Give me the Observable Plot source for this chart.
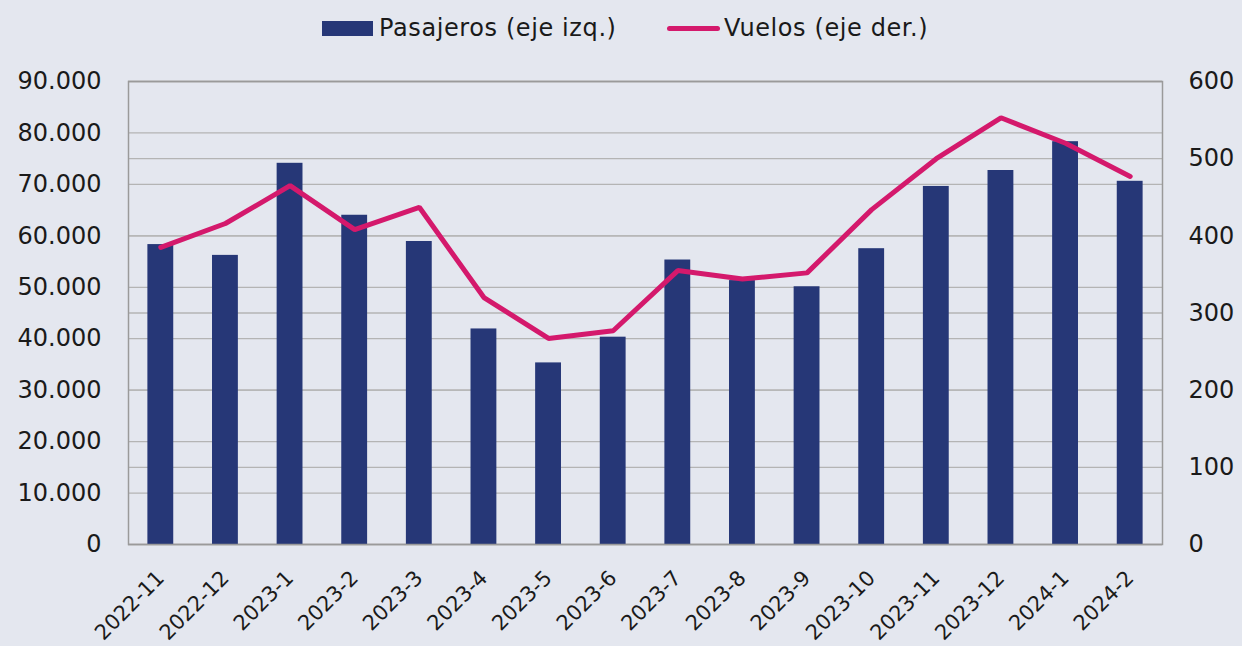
<!DOCTYPE html>
<html>
<head>
<meta charset="utf-8">
<script src="https://cdn.jsdelivr.net/npm/d3@7"></script>
<script src="https://cdn.jsdelivr.net/npm/@observablehq/plot@0.6"></script>
<style>
  html, body { margin: 0; padding: 0; background: #e4e7ef; }
  body { width: 1242px; height: 646px; overflow: hidden; font-family: "DejaVu Sans", sans-serif; color: #1a1a1a; }
  #legend { position: relative; height: 56px; font-size: 24px; letter-spacing: 0.6px; }
  .item { position: absolute; top: 13px; display: flex; align-items: center; height: 30px; }
  .sw-bar { width: 51px; height: 15px; background: #263777; margin-right: 6px; }
  .sw-line { width: 53px; height: 5px; border-radius: 3px; background: #d4196c; margin-right: 4px; }
</style>
</head>
<body>
<div id="legend">
  <div class="item" style="left:322px"><span class="sw-bar"></span><span>Pasajeros (eje izq.)</span></div>
  <div class="item" style="left:667px"><span class="sw-line"></span><span>Vuelos (eje der.)</span></div>
</div>
<div id="chart"></div>
<script>
const months = ["2022-11","2022-12","2023-1","2023-2","2023-3","2023-4","2023-5","2023-6","2023-7","2023-8","2023-9","2023-10","2023-11","2023-12","2024-1","2024-2"];
const pasajeros = [58300,56200,74100,64000,58900,41900,35300,40300,55300,51300,50100,57500,69600,72700,78300,70600];
const vuelos = [385,416,465,408,437,320,267,277,355,344,352,434,500,553,520,477];
const leftTicks = [0,10000,20000,30000,40000,50000,60000,70000,80000,90000];
const rightTicks = [0,100,200,300,400,500,600];

const ratio = 90000 / 600;
const data = months.map((m, i) => ({month: m, pasajeros: pasajeros[i], vuelos: vuelos[i]}));
const fmt = d => d3.format(",")(d).replace(/,/g, ".");

const chart = Plot.plot({
  width: 1242,
  height: 590,
  marginLeft: 128,
  marginRight: 80,
  marginTop: 25,
  marginBottom: 102,
  style: { background: "#e4e7ef", fontFamily: "DejaVu Sans, sans-serif", fontSize: "24px", color: "#1a1a1a" },
  x: { domain: months, paddingInner: 0.6, paddingOuter: 0.3, round: false, label: null },
  y: { domain: [0, 90000], label: null },
  marks: [
    Plot.gridY(leftTicks, { stroke: "#b4b4b4", strokeOpacity: 1, strokeWidth: 1.3 }),
    Plot.gridY(rightTicks.map(v => v * ratio), { stroke: "#b4b4b4", strokeOpacity: 1, strokeWidth: 1.3 }),
    Plot.barY(data, { x: "month", y: "pasajeros", fill: "#263777" }),
    Plot.lineY(data, { x: "month", y: d => d.vuelos * ratio, stroke: "#d4196c", strokeWidth: 5, strokeLinejoin: "miter" }),
    Plot.frame({ stroke: "#9a9a9a", strokeWidth: 1.5 }),
    Plot.axisY(leftTicks, { anchor: "left", tickSize: 0, tickPadding: 27, tickFormat: fmt, label: null }),
    Plot.axisY(rightTicks.map(v => v * ratio), { anchor: "right", tickSize: 0, tickPadding: 26, tickFormat: d => Math.round(d / ratio), label: null }),
    Plot.axisX({ tickSize: 0, tickRotate: -45, tickPadding: 30, label: null, fontSize: 21 })
  ]
});
document.getElementById("chart").append(chart);
</script>
</body>
</html>
